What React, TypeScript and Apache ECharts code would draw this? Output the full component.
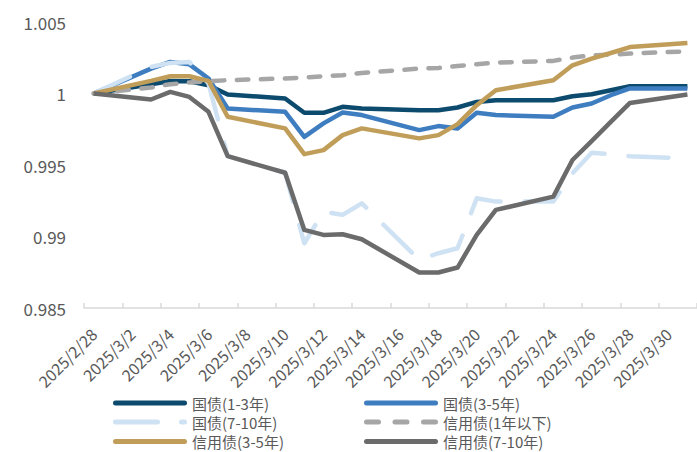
import React, { useEffect, useRef } from "react";
import * as echarts from "echarts";

// Calendar days on the x axis (2025/2/28 – 2025/3/31)
const categories = [
  "2025/2/28", "2025/3/1", "2025/3/2", "2025/3/3", "2025/3/4", "2025/3/5", "2025/3/6", "2025/3/7",
  "2025/3/8", "2025/3/9", "2025/3/10", "2025/3/11", "2025/3/12", "2025/3/13", "2025/3/14", "2025/3/15",
  "2025/3/16", "2025/3/17", "2025/3/18", "2025/3/19", "2025/3/20", "2025/3/21", "2025/3/22", "2025/3/23",
  "2025/3/24", "2025/3/25", "2025/3/26", "2025/3/27", "2025/3/28", "2025/3/29", "2025/3/30", "2025/3/31",
];

// Trading days that carry data
const tradingDays = [
  "2025/2/28", "2025/3/3", "2025/3/4", "2025/3/5", "2025/3/6", "2025/3/7",
  "2025/3/10", "2025/3/11", "2025/3/12", "2025/3/13", "2025/3/14",
  "2025/3/17", "2025/3/18", "2025/3/19", "2025/3/20", "2025/3/21",
  "2025/3/24", "2025/3/25", "2025/3/26", "2025/3/27", "2025/3/28", "2025/3/31",
];

const gov13 = [1, 1.00065, 1.00088, 1.00086, 1.00058, 0.99993, 0.99965, 0.99865, 0.99865, 0.99907, 0.99895,
  0.99883, 0.99883, 0.99902, 0.99941, 0.99953, 0.99953, 0.99981, 0.99995, 1.00023, 1.00051, 1.00051];
const gov35 = [1, 1.00174, 1.00221, 1.00204, 1.00105, 0.99895, 0.99872, 0.99697, 0.99791, 0.99867, 0.99849,
  0.99744, 0.99772, 0.99756, 0.99865, 0.99849, 0.99837, 0.99902, 0.9993, 0.99988, 1.00035, 1.00035];
const gov710 = [1, 1.00186, 1.00214, 1.00221, 1.0007, 0.99562, 0.99446, 0.98953, 0.99174, 0.99151, 0.99232,
  0.98837, 0.98883, 0.98918, 0.99267, 0.99244, 0.99244, 0.99442, 0.99586, 0.99574, 0.99562, 0.99546];
const credit1 = [1, 1.00042, 1.00065, 1.00077, 1.00086, 1.00093, 1.00105, 1.00112, 1.00121, 1.00128, 1.00144,
  1.00174, 1.00179, 1.00193, 1.00204, 1.00216, 1.00228, 1.00251, 1.00267, 1.00272, 1.00279, 1.00295];
const credit35 = [1, 1.00088, 1.00121, 1.00121, 1.00088, 0.99837, 0.99756, 0.99576, 0.99604, 0.99709, 0.99756,
  0.99686, 0.99709, 0.99786, 0.99918, 1.00023, 1.00093, 1.00197, 1.00244, 1.00283, 1.00325, 1.00353];
const credit710 = [1, 0.99958, 1.00011, 0.99976, 0.99872, 0.99562, 0.99446, 0.99046, 0.99011, 0.99016, 0.98981,
  0.98748, 0.98748, 0.98783, 0.99011, 0.99186, 0.99279, 0.99535, 0.99667, 0.99802, 0.99934, 0.99993];

const seriesNames = ["国债(1-3年)", "国债(3-5年)", "国债(7-10年)", "信用债(1年以下)", "信用债(3-5年)", "信用债(7-10年)"];
const seriesValues = [gov13, gov35, gov710, credit1, credit35, credit710];
const seriesColors = ["#0C4A6E", "#3E7DC0", "#CFE2F3", "#A6A6A6", "#C09E5A", "#6B6B6B"];
const seriesDash: any[] = ["solid", "solid", [40, 24], [11.5, 12.5], "solid", "solid"];

const yMin = 0.985;
const yMax = 1.005;
const yStep = 0.005;

const FONT = "'Noto Sans CJK SC', 'Noto Sans', sans-serif";
const TEXT = "#595959";

// rounded bar segment for legend icons (height 5)
const seg = (x0: number, x1: number) =>
  `M${x0 + 2.5},0H${x1 - 2.5}A2.5,2.5,0,0,1,${x1 - 2.5},5H${x0 + 2.5}A2.5,2.5,0,0,1,${x0 + 2.5},0Z`;
const ICON_SOLID = "path://" + seg(0, 74);
const ICON_LONGDASH = "path://" + seg(0, 47) + " " + seg(66, 74);
const ICON_DASH = "path://" + seg(0, 17) + " " + seg(28.5, 45.5) + " " + seg(57, 74);
const legendIcons = [ICON_SOLID, ICON_SOLID, ICON_LONGDASH, ICON_DASH, ICON_SOLID, ICON_SOLID];

export default function App() {
  const ref = useRef<HTMLDivElement>(null);
  useEffect(() => {
    if (!ref.current) return;
    const chart = echarts.init(ref.current, null, { renderer: "svg" });
    const legendPos = [
      { left: 113, top: 395.5 },
      { left: 364, top: 395.5 },
      { left: 113, top: 414.5 },
      { left: 364, top: 414.5 },
      { left: 113, top: 434 },
      { left: 364, top: 434 },
    ];
    chart.setOption({
      animation: false,
      backgroundColor: "#ffffff",
      textStyle: { fontFamily: FONT },
      grid: { left: 84, top: 22, width: 630, height: 286, containLabel: false },
      legend: seriesNames.map((n, i) => ({
        data: [{ name: n, icon: legendIcons[i] }],
        left: legendPos[i].left,
        top: legendPos[i].top,
        padding: 0,
        itemWidth: 74,
        itemHeight: 5,
        selectedMode: false,
        textStyle: { color: TEXT, fontSize: 15, fontFamily: FONT },
      })),
      xAxis: {
        type: "category",
        data: categories,
        boundaryGap: true,
        axisLine: { lineStyle: { color: "#D9D9D9", width: 1.5 } },
        axisTick: { show: true, inside: true, length: 5, interval: 1, lineStyle: { color: "#D9D9D9", width: 1.5 } },
        axisLabel: { interval: 1, rotate: 45, margin: 23, color: TEXT, fontSize: 16, fontFamily: FONT },
        splitLine: { show: false },
      },
      yAxis: {
        type: "value",
        min: yMin,
        max: yMax,
        interval: yStep,
        axisLine: { show: false },
        axisTick: { show: false },
        splitLine: { show: false },
        axisLabel: {
          margin: 18,
          color: TEXT,
          fontSize: 17,
          fontFamily: FONT,
          formatter: (v: number) => String(parseFloat(v.toFixed(3))),
        },
      },
      series: seriesNames.map((n, i) => ({
        name: n,
        type: "line",
        data: tradingDays.map((d, j) => [d, seriesValues[i][j]]),
        showSymbol: false,
        symbol: "none",
        connectNulls: true,
        color: seriesColors[i],
        lineStyle: {
          color: seriesColors[i],
          width: 4.5,
          type: seriesDash[i],
          cap: seriesDash[i] === "solid" ? "butt" : "round",
          join: "round",
        },
      })),
    });
    return () => chart.dispose();
  }, []);
  return <div ref={ref} style={{ width: 697, height: 452, position: "absolute", left: 0, top: 0 }} />;
}
